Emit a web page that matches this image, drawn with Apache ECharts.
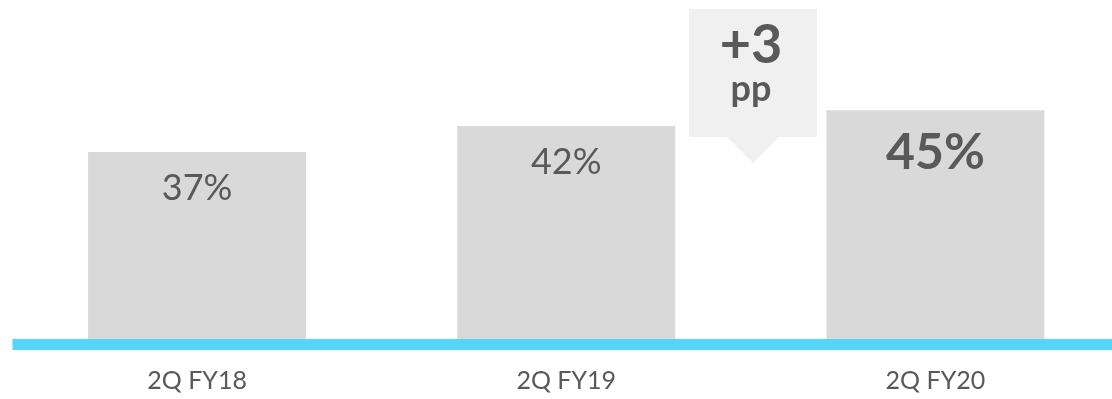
<!DOCTYPE html>
<html>
<head>
<meta charset="utf-8">
<script src="https://cdn.jsdelivr.net/npm/echarts@6/dist/echarts.min.js"></script>
<style>
  html, body { margin: 0; padding: 0; background: #fff; }
  #chart { width: 1112px; height: 399px; }
</style>
</head>
<body>
<div id="chart"></div>
<script>
// 数据
const categories = ['2Q FY18', '2Q FY19', '2Q FY20']
const shares = [37, 42, 45]
const highlightIndex = 2 // 最后一根柱子加粗
const calloutLines = ['+3', 'pp']

const TEXT_COLOR = '#595959'
const BAR_COLOR = '#d9d9d9'
const BASE_COLOR = '#55d4fe'
const FONT = 'Lato, "Open Sans", sans-serif'

const chart = echarts.init(document.getElementById('chart'))

const barData = shares.map((v, i) => {
  if (i !== highlightIndex) return v
  return {
    value: v,
    label: { fontSize: 50, fontWeight: 'bold', distance: 18 }
  }
})

chart.setOption({
  animation: false,
  grid: {
    left: 12.5,
    right: -8,
    top: 1,
    bottom: 54.5,
    outerBoundsMode: 'none'
  },
  xAxis: {
    type: 'category',
    data: categories,
    z: 10,
    axisLine: {
      lineStyle: { color: BASE_COLOR, width: 11, cap: 'butt' }
    },
    axisTick: { show: false },
    axisLabel: {
      margin: 24,
      color: TEXT_COLOR,
      fontSize: 25,
      fontFamily: FONT
    }
  },
  yAxis: {
    type: 'value',
    min: 0,
    max: 66,
    show: false
  },
  series: [{
    type: 'bar',
    data: barData,
    barWidth: 218,
    itemStyle: { color: BAR_COLOR },
    label: {
      show: true,
      position: 'insideTop',
      distance: 18,
      formatter: '{c}%',
      color: TEXT_COLOR,
      fontSize: 36,
      fontFamily: FONT
    }
  }],
  // 提示框 +3 pp
  graphic: [
    {
      type: 'rect',
      shape: { x: 689, y: 9, width: 128, height: 128 },
      style: { fill: '#f0f0f0' }
    },
    {
      type: 'polygon',
      shape: { points: [[727, 137], [779, 137], [753, 163]] },
      style: { fill: '#f0f0f0' }
    },
    {
      type: 'text',
      x: 751,
      y: 46,
      style: {
        text: calloutLines[0],
        fill: TEXT_COLOR,
        font: 'bold 54px ' + FONT,
        align: 'center',
        verticalAlign: 'middle'
      }
    },
    {
      type: 'text',
      x: 751,
      y: 89,
      style: {
        text: calloutLines[1],
        fill: TEXT_COLOR,
        font: 'bold 36px ' + FONT,
        align: 'center',
        verticalAlign: 'middle'
      }
    }
  ]
})
</script>
</body>
</html>
